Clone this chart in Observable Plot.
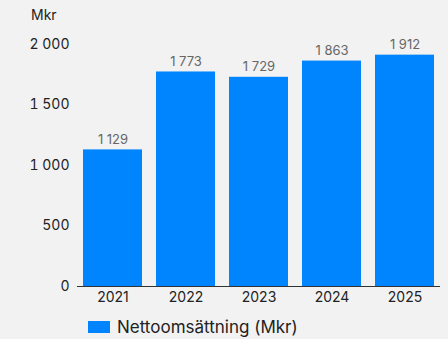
<!DOCTYPE html>
<html><head><meta charset="utf-8">
<script src="https://cdn.jsdelivr.net/npm/d3@7"></script>
<script src="https://cdn.jsdelivr.net/npm/@observablehq/plot@0.6"></script>
<style>
html,body{margin:0;padding:0;background:#f2f2f2;}
#wrap{position:relative;width:448px;height:339px;font-family:Inter,"Open Sans",sans-serif;overflow:hidden;}
#unit{position:absolute;left:31px;top:6px;font-size:14px;color:#222;}
#legend{position:absolute;left:88px;top:317px;display:flex;align-items:center;font-size:17px;color:#222;}
#legend .sw{width:22px;height:12px;margin-right:7px;}
</style></head>
<body><div id="wrap"><div id="chart"></div><div id="unit"></div><div id="legend"></div></div>
<script>
const years = ["2021","2022","2023","2024","2025"];
const values = [1129, 1773, 1729, 1863, 1912];
const yTicks = [0, 500, 1000, 1500, 2000];
const seriesName = "Nettoomsättning (Mkr)";
const unitLabel = "Mkr";
const barColor = "#0085ff";

const loc = d3.formatLocale({thousands:"\u00a0", grouping:[3], decimal:",", currency:["",""]});
const fmt = loc.format(",d");
const data = years.map((y,i)=>({year:y, value:values[i]}));

const chart = Plot.plot({
  width: 448, height: 310,
  marginLeft: 77, marginRight: 8, marginTop: 44, marginBottom: 24,
  style: {background:"transparent", fontFamily:"Inter, 'Open Sans', sans-serif", fontSize:"14px", color:"#222"},
  x: {domain: years, paddingInner: 0.19, paddingOuter: 0.08, label: null, tickSize: 0, tickPadding: 6},
  y: {domain: [0, 2000], ticks: yTicks, tickFormat: fmt, label: null, tickSize: 0, tickPadding: 8},
  marks: [
    Plot.barY(data, {x:"year", y:"value", fill: barColor}),
    Plot.ruleY([0], {stroke:"#333", strokeWidth:1}),
    Plot.text(data, {x:"year", y:"value", text: d=>fmt(d.value), dy:-10, fill:"#666", fontSize:13})
  ]
});
document.getElementById("chart").appendChild(chart);
document.getElementById("unit").textContent = unitLabel;
const lg = document.getElementById("legend");
lg.innerHTML = `<div class="sw" style="background:${barColor}"></div><span>${seriesName}</span>`;
</script></body></html>
